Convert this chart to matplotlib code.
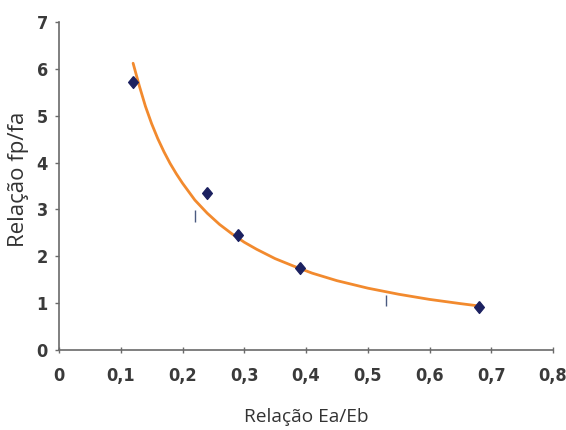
import matplotlib
matplotlib.use("Agg")
import matplotlib.pyplot as plt
from matplotlib.ticker import FuncFormatter
from matplotlib import font_manager

# Measured points
pts_x = [0.12, 0.24, 0.29, 0.39, 0.68]
pts_y = [5.71, 3.35, 2.45, 1.74, 0.92]

# Trend curve
curve_x = [0.12, 0.13, 0.14, 0.15, 0.16, 0.17, 0.18, 0.19, 0.20, 0.22, 0.24, 0.26, 0.28,
           0.30, 0.32, 0.35, 0.38, 0.41, 0.45, 0.50, 0.55, 0.60, 0.65, 0.68]
curve_y = [6.12, 5.64, 5.20, 4.83, 4.51, 4.23, 3.98, 3.76, 3.56, 3.20, 2.92, 2.68, 2.48,
           2.30, 2.15, 1.95, 1.79, 1.64, 1.48, 1.32, 1.19, 1.08, 0.99, 0.94]

# Small vertical marks
mark_x = [0.22, 0.53]
mark_lo = [2.74, 0.93]
mark_hi = [2.98, 1.17]

xticks = [0, 0.1, 0.2, 0.3, 0.4, 0.5, 0.6, 0.7, 0.8]
yticks = [0, 1, 2, 3, 4, 5, 6, 7]

fig = plt.figure(figsize=(5.66, 4.30), dpi=100)
ax = fig.add_axes([59/566, 1-350/430, (553-59)/566, (350-22)/430])

diamond = [(0, 1), (0.82, 0), (0, -1), (-0.82, 0), (0, 1)]

ax.plot(curve_x, curve_y, color="#f28a2e", lw=2.0, zorder=2, solid_capstyle="round")
ax.vlines(mark_x, mark_lo, mark_hi, color="#4a5a80", lw=1.0, zorder=3)
ax.plot(pts_x, pts_y, linestyle="none", marker=diamond, markersize=8.5,
        color="#1c2160", zorder=4)

ax.set_xlim(0, 0.8)
ax.set_ylim(0, 7)
ax.set_xticks(xticks)
ax.set_yticks(yticks)
ax.xaxis.set_major_formatter(FuncFormatter(lambda v, p: "0" if v == 0 else f"{v:.1f}".replace(".", ",")))
ax.yaxis.set_major_formatter(FuncFormatter(lambda v, p: f"{int(round(v))}"))

for s in ["top", "right"]:
    ax.spines[s].set_visible(False)
for s in ["left", "bottom"]:
    ax.spines[s].set_color("#6a6a6a")
    ax.spines[s].set_linewidth(1.2)

ax.tick_params(axis="x", direction="inout", length=5, width=1, color="#6a6a6a", pad=10,
               labelsize=13, labelcolor="#3a3a3a")
ax.tick_params(axis="y", direction="out", length=3, width=1, color="#6a6a6a", pad=5,
               labelsize=13, labelcolor="#3a3a3a")
fp = font_manager.FontProperties(family="DejaVu Sans", weight="bold", stretch="condensed", size=13)
for lab in ax.get_xticklabels() + ax.get_yticklabels():
    lab.set_fontproperties(fp)

labfont = ["Open Sans", "DejaVu Sans"]
ax.set_xlabel("Relação Ea/Eb", family=labfont, fontsize=13.8, color="#333333")
ax.set_ylabel("Relação fp/fa", family=labfont, fontsize=16, color="#333333")
# label centres in figure pixels: xlabel (306, 417), ylabel (18.5, 179)
ax.xaxis.set_label_coords(0.5, (350 - 417) / 328)
ax.xaxis.label.set_va("center")
ax.yaxis.set_label_coords((18.5 - 59) / 494, (350 - 179) / 328)
ax.yaxis.label.set_va("center")

fig.savefig("out.png", dpi=100)
